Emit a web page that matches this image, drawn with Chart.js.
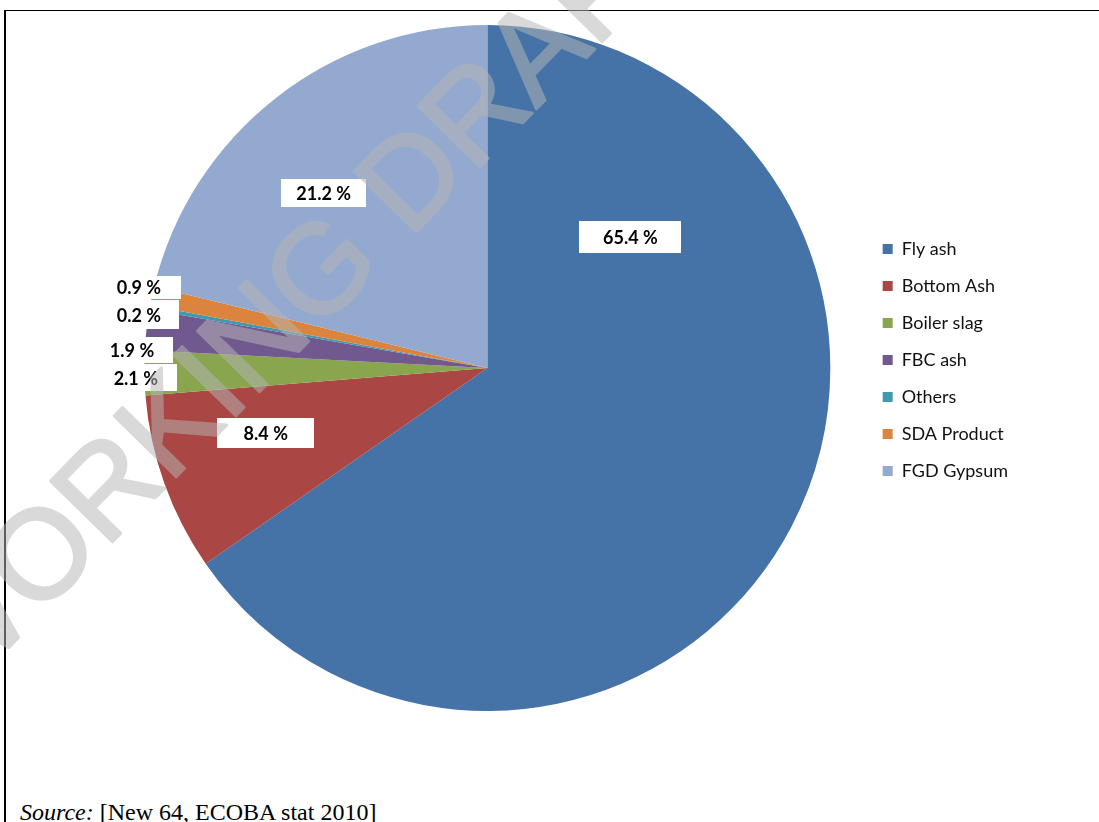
<!DOCTYPE html>
<html>
<head>
<meta charset="utf-8">
<script src="https://cdn.jsdelivr.net/npm/chart.js@4.4.0/dist/chart.umd.min.js"></script>
<style>
  html, body { margin: 0; padding: 0; background: #fff; }
  body { width: 1099px; height: 822px; position: relative; overflow: hidden; }
  #frame {
    position: absolute; left: 4px; top: 10px; width: 1095px; height: 812px;
    border-left: 2px solid #000; border-top: 1px solid #000; box-sizing: border-box;
  }
  #wrap { position: absolute; left: 0; top: 0; width: 1099px; height: 822px; }
  #source {
    position: absolute; left: 20px; top: 799px; line-height: 24px;
    font: 24px "Liberation Serif", "Times New Roman", serif; color: #000; white-space: nowrap;
  }
</style>
</head>
<body>
<div id="frame"></div>
<div id="source"><i>Source:</i> [New 64, ECOBA stat 2010]</div>
<div id="wrap"><canvas id="pie" width="1099" height="822"></canvas></div>
<script>
// categorias e percentagens
const categories = ["Fly ash", "Bottom Ash", "Boiler slag", "FBC ash", "Others", "SDA Product", "FGD Gypsum"];
const shares = [65.4, 8.4, 2.1, 1.9, 0.2, 0.9, 21.2];
const sliceColors = ["#4572a7", "#aa4643", "#89a54e", "#71588f", "#4198af", "#db843d", "#93a9cf"];

// posição das caixas de rótulo (em fracções do raio, a partir do centro) e tamanho
const labelBoxes = [
    { dx: 0.417, dy: -0.382, w: 102, h: 32 },
    { dx: -0.646, dy: 0.190, w: 97, h: 30 },
    { dx: -1.025, dy: 0.029, w: 82, h: 27 },
    { dx: -1.036, dy: -0.052, w: 83, h: 26 },
    { dx: -1.016, dy: -0.155, w: 80, h: 29 },
    { dx: -1.016, dy: -0.236, w: 85, h: 23 },
    { dx: -0.477, dy: -0.510, w: 85, h: 28 }
];

const boxLabels = {
    id: "boxLabels",
    afterDatasetsDraw(chart) {
        const ctx = chart.ctx;
        const arcs = chart.getDatasetMeta(0).data;
        ctx.save();
        ctx.font = "bold 18px Lato, 'Noto Sans', sans-serif";
        ctx.textAlign = "center";
        ctx.textBaseline = "middle";
        arcs.forEach((arc, i) => {
            const b = labelBoxes[i];
            const cx = arc.x + b.dx * arc.outerRadius;
            const cy = arc.y + b.dy * arc.outerRadius;
            ctx.fillStyle = "#fff";
            ctx.fillRect(Math.round(cx - b.w / 2), Math.round(cy - b.h / 2), b.w, b.h);
            ctx.fillStyle = "#000";
            ctx.fillText(shares[i].toFixed(1) + " %", cx, cy + 1);
        });
        ctx.restore();
    }
};

// sobe um pouco a legenda (no original não fica centrada com a pizza)
const legendShift = {
    id: "legendShift",
    afterLayout(chart) {
        if (!chart.legend) return;
        chart.legend.top -= 8;
        chart.legend.bottom -= 8;
    }
};

// marca de água "WORKING DRAFT" (desenhada à parte e depois colada com transparência)
const watermark = {
    id: "watermark",
    afterDraw(chart) {
        const ctx = chart.ctx;
        const off = document.createElement("canvas");
        off.width = chart.width;
        off.height = chart.height;
        const o = off.getContext("2d");
        o.translate(296, 290);
        o.rotate(-45.6 * Math.PI / 180);
        o.font = "126px 'Liberation Sans', Arial, sans-serif";
        o.textAlign = "center";
        o.textBaseline = "alphabetic";
        o.fillStyle = "rgb(182,182,182)";
        o.strokeStyle = "rgb(182,182,182)";
        o.lineWidth = 3;
        o.lineJoin = "round";
        o.fillText("WORKING DRAFT", 0, 45);
        o.strokeText("WORKING DRAFT", 0, 45);
        ctx.save();
        ctx.globalAlpha = 0.52;
        ctx.drawImage(off, 0, 0);
        ctx.restore();
    }
};

new Chart(document.getElementById("pie").getContext("2d"), {
    type: "pie",
    data: {
        labels: categories,
        datasets: [{
            data: shares,
            backgroundColor: sliceColors,
            borderWidth: 0
        }]
    },
    options: {
        responsive: false,
        devicePixelRatio: 1,
        animation: false,
        layout: { padding: { top: 25, bottom: 111, left: 111, right: 81 } },
        plugins: {
            tooltip: { enabled: false },
            legend: {
                position: "right",
                labels: {
                    boxWidth: 10,
                    boxHeight: 10,
                    padding: 19,
                    color: "#111",
                    font: { family: "Lato, 'Noto Sans', sans-serif", size: 18 }
                }
            }
        }
    },
    plugins: [boxLabels, legendShift, watermark]
});
</script>
</body>
</html>
